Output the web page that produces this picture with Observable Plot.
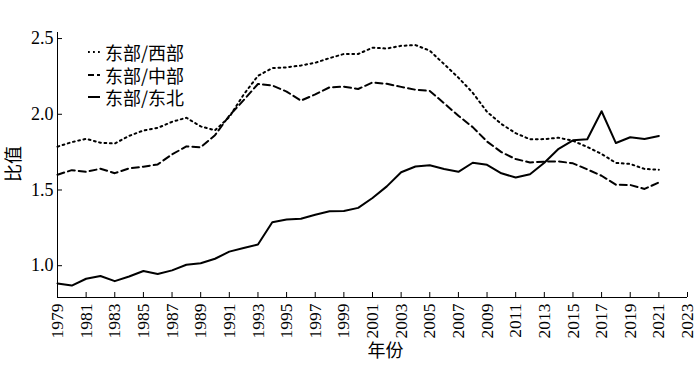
<!DOCTYPE html>
<html>
<head>
<meta charset="utf-8">
<script src="https://cdn.jsdelivr.net/npm/d3@7"></script>
<script src="https://cdn.jsdelivr.net/npm/@observablehq/plot@0.6"></script>
<style>
  html, body { margin: 0; padding: 0; background: #fff; }
  #wrap { position: relative; width: 700px; height: 367px; }
  #wrap svg g[aria-label$="tick label"] text { font-family: "Liberation Serif", "Times New Roman", serif; }
  #legend { position: absolute; left: 86px; top: 41px; font-family: "Noto Sans CJK SC", sans-serif; font-size: 18px; color: #000; }
  #legend .row { display: flex; align-items: center; height: 22.5px; overflow: visible; }
  #legend span { line-height: 18px; display: block; }
  #legend svg { display: block; margin-right: 3px; }
</style>
</head>
<body>
<div id="wrap"></div>
<script>
const years = d3.range(1979, 2022);
const seriesNames = ["东部/西部", "东部/中部", "东部/东北"];
const eastWest = [1.786, 1.816, 1.838, 1.812, 1.807, 1.857, 1.893, 1.91, 1.95, 1.977,
  1.92, 1.894, 1.982, 2.13, 2.254, 2.305, 2.31, 2.322, 2.34, 2.371,
  2.398, 2.398, 2.44, 2.434, 2.452, 2.457, 2.42, 2.331, 2.242, 2.142,
  2.016, 1.936, 1.875, 1.835, 1.836, 1.845, 1.825, 1.784, 1.738, 1.679,
  1.672, 1.639, 1.634];
const eastCentral = [1.601, 1.631, 1.62, 1.64, 1.611, 1.643, 1.654, 1.669, 1.735, 1.788,
  1.782, 1.862, 1.991, 2.093, 2.2, 2.19, 2.15, 2.09, 2.131, 2.178,
  2.182, 2.167, 2.21, 2.201, 2.181, 2.162, 2.154, 2.073, 1.99, 1.915,
  1.82, 1.75, 1.704, 1.682, 1.687, 1.689, 1.676, 1.636, 1.594, 1.535,
  1.533, 1.507, 1.55];
const eastNortheast = [0.883, 0.869, 0.914, 0.932, 0.898, 0.929, 0.965, 0.945, 0.969, 1.006,
  1.016, 1.046, 1.093, 1.117, 1.14, 1.287, 1.305, 1.31, 1.336, 1.359,
  1.361, 1.382, 1.447, 1.524, 1.617, 1.655, 1.663, 1.638, 1.62, 1.68,
  1.666, 1.61, 1.582, 1.604, 1.68, 1.772, 1.828, 1.835, 2.02, 1.81,
  1.848, 1.837, 1.857];
const xTicks = d3.range(1979, 2024, 2);
const yTicks = [1.0, 1.5, 2.0, 2.5];
const xDomain = [1979, 2023];
const yDomain = [0.79, 2.54];
const xLabel = "年份";
const yLabel = "比值";

const serif = "'Liberation Serif', 'Times New Roman', serif";
const cjk = "'Noto Sans CJK SC', sans-serif";

const styles = [
  {name: seriesNames[0], values: eastWest, dash: "1.8,3.6", legendDash: "1.8,3.2"},
  {name: seriesNames[1], values: eastCentral, dash: "7,4", legendDash: "6,3"},
  {name: seriesNames[2], values: eastNortheast, dash: null, legendDash: null}
];
const table = s => years.map((y, i) => ({year: y, value: s.values[i]}));

const chart = Plot.plot({
  width: 700,
  height: 367,
  marginLeft: 57,
  marginRight: 13,
  marginTop: 32,
  marginBottom: 70,
  style: {fontFamily: serif, fontSize: "17px", color: "#000", background: "#fff"},
  x: {domain: xDomain},
  y: {domain: yDomain},
  marks: [
    Plot.ruleX([xDomain[0]], {stroke: "#000", strokeWidth: 1}),
    Plot.ruleY([yDomain[0]], {stroke: "#000", strokeWidth: 1}),
    Plot.axisX({ticks: xTicks, tickFormat: d3.format("d"), tickRotate: -90, tickSize: -5, tickPadding: 11, fontSize: 17.5, fontFamily: serif, label: null}),
    Plot.axisY({ticks: yTicks, tickFormat: d3.format(".1f"), tickSize: -5, tickPadding: 9, fontSize: 18, fontFamily: serif, label: null}),
    ...styles.map(s => Plot.line(table(s), {x: "year", y: "value", stroke: "#000", strokeWidth: 2, strokeDasharray: s.dash})),
    Plot.text([yLabel], {frameAnchor: "left", dx: -43, dy: 17, rotate: -90, fontSize: 18, fontFamily: cjk}),
    Plot.text([xLabel], {frameAnchor: "bottom", dy: 59, dx: 13, fontSize: 18, fontFamily: cjk})
  ]
});
const wrap = document.getElementById("wrap");
wrap.appendChild(chart);

const legend = document.createElement("div");
legend.id = "legend";
styles.forEach(s => {
  const row = document.createElement("div");
  row.className = "row";
  row.innerHTML = `<svg width="16" height="20"><line x1="2" x2="14" y1="10" y2="10" stroke="#000" stroke-width="2" ${s.legendDash ? `stroke-dasharray="${s.legendDash}"` : ""}/></svg><span>${s.name}</span>`;
  legend.appendChild(row);
});
wrap.appendChild(legend);
</script>
</body>
</html>
